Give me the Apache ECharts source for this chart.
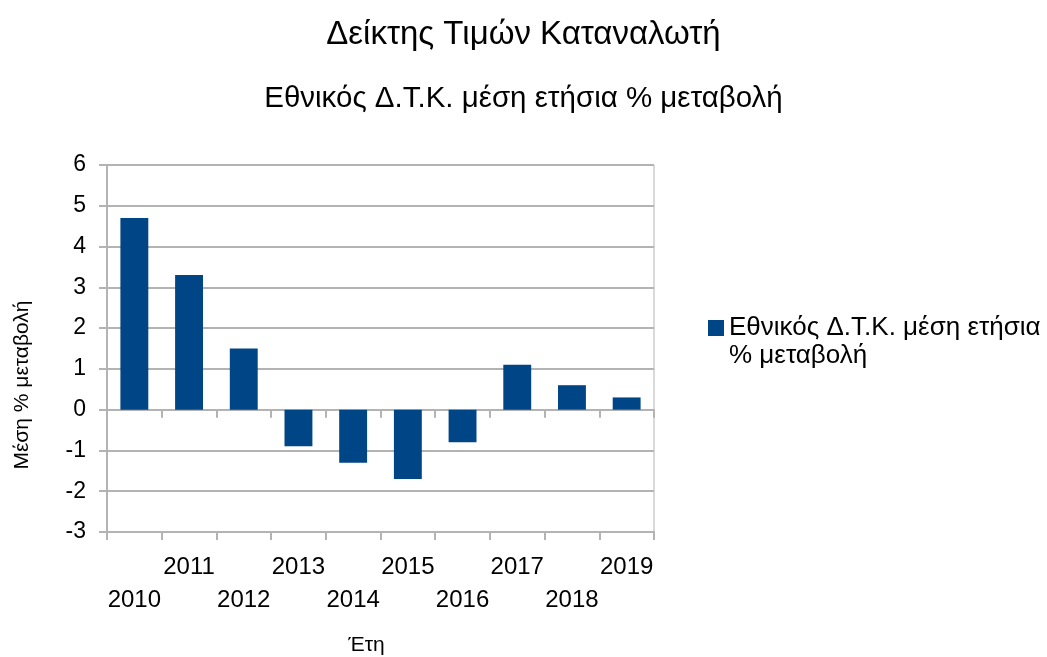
<!DOCTYPE html>
<html>
<head>
<meta charset="utf-8">
<script src="https://cdn.jsdelivr.net/npm/echarts@6/dist/echarts.min.js"></script>
<style>
html,body{margin:0;padding:0;background:#fff;}
#c{width:1047px;height:657px;}
</style>
</head>
<body>
<div id="c"></div>
<script>
const years = ['2010','2011','2012','2013','2014','2015','2016','2017','2018','2019'];
const values = [4.7, 3.3, 1.5, -0.9, -1.3, -1.7, -0.8, 1.1, 0.6, 0.3];
const yTicks = { min: -3, max: 6, interval: 1 };
const seriesName = 'Εθνικός Δ.Τ.Κ. μέση ετήσια % μεταβολή';
const titleText = 'Δείκτης Τιμών Καταναλωτή';
const yAxisName = 'Μέση % μεταβολή';
const xAxisName = 'Έτη';

const FONT = '"Liberation Sans", Arial, sans-serif';
const chart = echarts.init(document.getElementById('c'), null, {renderer: 'canvas'});
chart.setOption({
  backgroundColor: '#ffffff',
  animation: false,
  textStyle: { fontFamily: FONT, color: '#000' },
  title: [
    { text: titleText, left: 'center', top: 13,
      textStyle: { fontFamily: FONT, fontSize: 33, fontWeight: 'normal', color: '#000' } },
    { text: seriesName, left: 'center', top: 79,
      textStyle: { fontFamily: FONT, fontSize: 29.5, fontWeight: 'normal', color: '#000' } }
  ],
  legend: {
    left: 703, top: 281, orient: 'vertical',
    icon: 'rect', itemWidth: 16, itemHeight: 16, itemGap: 8,
    formatter: () => '\nΕθνικός Δ.Τ.Κ. μέση ετήσια\n% μεταβολή',
    textStyle: { fontFamily: FONT, fontSize: 26, color: '#000', lineHeight: 28 },
    data: [seriesName]
  },
  graphic: [
    { type: 'text', x: 22, y: 385, rotation: Math.PI / 2,
      style: { text: yAxisName, fontFamily: FONT, fontSize: 21, fill: '#000', align: 'center', verticalAlign: 'middle' } }
  ],
  grid: { left: 107, right: 393, top: 165, bottom: 125, show: true, borderColor: '#b3b3b3', borderWidth: 1,
    containLabel: false, outerBoundsMode: 'none' },
  xAxis: [
    { type: 'category', data: years, position: 'bottom',
      axisLine: { onZero: true, lineStyle: { color: '#b3b3b3', width: 2 } },
      axisTick: { show: true, length: 8, lineStyle: { color: '#b3b3b3', width: 2 } },
      axisLabel: { show: false }, splitLine: { show: false } },
    { type: 'category', data: years, position: 'bottom', offset: 0,
      axisLine: { onZero: false, lineStyle: { color: '#b3b3b3', width: 2 } },
      axisTick: { show: true, length: 8, lineStyle: { color: '#b3b3b3', width: 2 } },
      axisLabel: { show: true, interval: 0, fontFamily: FONT, fontSize: 24, color: '#000', margin: 19,
        formatter: (v, i) => (i % 2 === 0 ? '\n' + v : v), lineHeight: 33 },
      name: xAxisName, nameLocation: 'middle', nameGap: 103,
      nameTextStyle: { fontFamily: FONT, fontSize: 21, color: '#000', padding: [0, 28, 0, 0] } }
  ],
  yAxis: {
    type: 'value', min: yTicks.min, max: yTicks.max, interval: yTicks.interval,
    axisLine: { show: true, lineStyle: { color: '#b3b3b3', width: 2 } },
    axisTick: { show: true, length: 8, lineStyle: { color: '#b3b3b3', width: 2 } },
    axisLabel: { fontFamily: FONT, fontSize: 23, color: '#000', margin: 21 },
    splitLine: { show: true, lineStyle: { color: '#b3b3b3', width: 2 } }
  },
  series: [{
    name: seriesName, type: 'bar', xAxisIndex: 0, data: values,
    barWidth: '51%',
    itemStyle: { color: '#004586' }
  }]
});
</script>
</body>
</html>
